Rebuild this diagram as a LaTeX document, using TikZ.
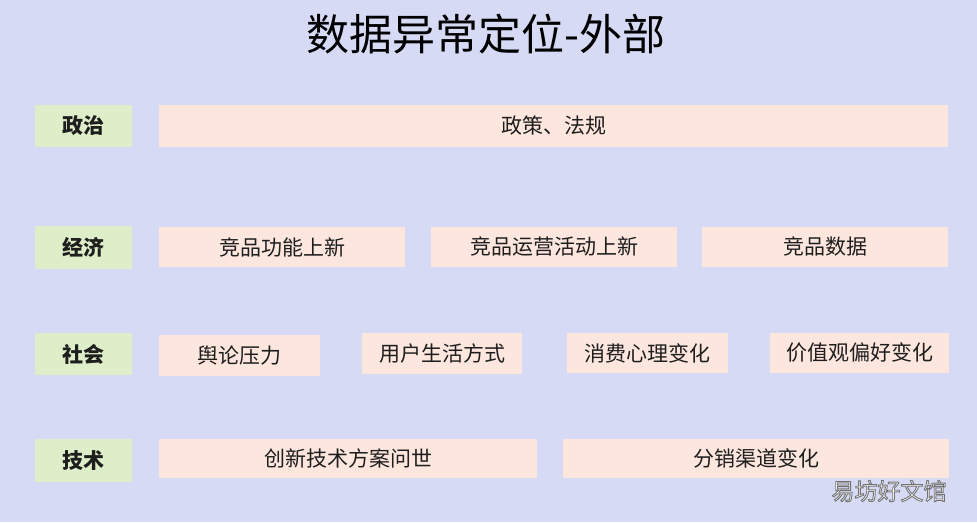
\documentclass[tikz,border=0pt]{standalone}
\usepackage{fontspec}
\newfontfamily\cjk{Noto Sans CJK SC}
\definecolor{bgc}{RGB}{214,218,245}
\definecolor{greenc}{RGB}{221,238,200}
\definecolor{peachc}{RGB}{253,230,222}
\definecolor{txtc}{RGB}{30,30,30}
\newcommand{\outlinetext}[1]{\special{pdf:literal direct 2 Tr 0.45 G 0.9 w}#1\special{pdf:literal direct 0 Tr}}
\tikzset{
  catbox/.style={fill=greenc, draw=none, inner sep=0pt, text=txtc,
    font=\cjk\bfseries\fontsize{21}{24}\selectfont},
  itembox/.style={fill=peachc, draw=none, inner sep=0pt, text=txtc,
    font=\cjk\fontsize{21}{24}\selectfont},
  titletext/.style={text=black, font=\cjk\fontsize{43}{48}\selectfont, inner sep=0pt},
  wmtext/.style={font=\cjk\fontsize{23}{26}\selectfont, inner sep=0pt, text=white}
}
\begin{document}
\begin{tikzpicture}[x=1pt,y=1pt]
\fill[bgc] (0,0) rectangle (977,522);
\useasboundingbox (0,0) rectangle (977,522);
\node[titletext] (title) at (486,488) {数据异常定位-外部};
% row 1
\node[catbox, minimum width=97pt, minimum height=42pt] (zz) at (83.5,396) {政治};
\node[itembox, minimum width=789pt, minimum height=42pt] (zc) at (553.5,396) {政策、法规};
% row 2
\node[catbox, minimum width=97pt, minimum height=43pt] (jj) at (83.5,274.5) {经济};
\node[itembox, minimum width=246pt, minimum height=40pt] (j1) at (282,275) {竞品功能上新};
\node[itembox, minimum width=246pt, minimum height=40pt] (j2) at (554,275) {竞品运营活动上新};
\node[itembox, minimum width=246pt, minimum height=40pt] (j3) at (825,275) {竞品数据};
% row 3
\node[catbox, minimum width=97pt, minimum height=42pt] (sh) at (83.5,168) {社会};
\node[itembox, minimum width=161pt, minimum height=41pt] (s1) at (239.5,166.5) {舆论压力};
\node[itembox, minimum width=160pt, minimum height=41pt] (s2) at (442,168.5) {用户生活方式};
\node[itembox, minimum width=161pt, minimum height=40pt] (s3) at (647.5,169) {消费心理变化};
\node[itembox, minimum width=179pt, minimum height=40pt] (s4) at (859.5,169) {价值观偏好变化};
% row 4
\node[catbox, minimum width=97pt, minimum height=43pt] (js) at (83.5,61.5) {技术};
\node[itembox, minimum width=378pt, minimum height=39pt] (t1) at (348,63.5) {创新技术方案问世};
\node[itembox, minimum width=386pt, minimum height=39pt] (t2) at (756,63.5) {分销渠道变化};
% watermark
\node[wmtext] (wm) at (889,31) {\outlinetext{易坊好文馆}};
\end{tikzpicture}
\end{document}
